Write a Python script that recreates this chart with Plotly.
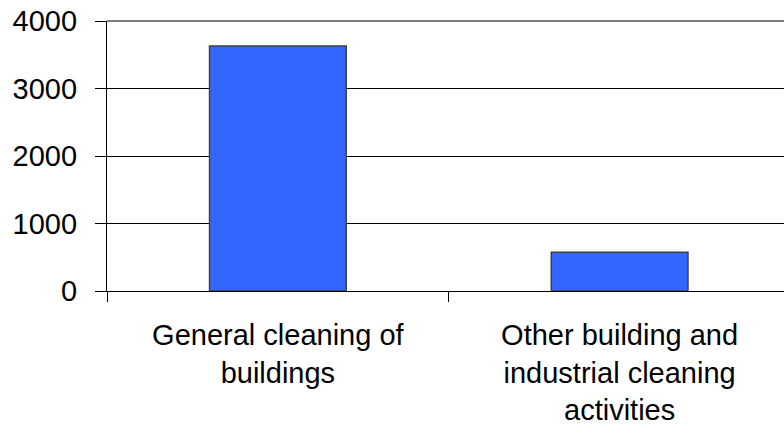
import plotly.graph_objects as go

categories = ["General cleaning of<br>buildings",
              "Other building and<br>industrial cleaning<br>activities"]
values = [3630, 575]
y_ticks = [0, 1000, 2000, 3000, 4000]

fig = go.Figure()
fig.add_trace(go.Bar(x=categories, y=values, width=0.4,
                     marker=dict(color="#3366FF", line=dict(color="#404040", width=1.5))))

fig.update_xaxes(type="category", range=[-0.5, 1.481], showline=True, linecolor="black",
                 linewidth=1.3, ticks="outside", tickson="boundaries", ticklen=10,
                 tickcolor="black", tickwidth=1.3, showgrid=False, ticklabelstandoff=18,
                 automargin=False)
fig.update_yaxes(range=[0, 4000], tickvals=y_ticks, showline=True, linecolor="black",
                 linewidth=1.3, ticks="outside", ticklen=11, tickcolor="black", tickwidth=1.3,
                 showgrid=True, gridcolor="black", gridwidth=1.3, zeroline=False,
                 ticklabelstandoff=12, automargin=False, ticklabeloverflow="allow")

# grey frame line at the top of the plot area
fig.add_shape(type="line", xref="paper", yref="paper", x0=0, x1=1, y0=1, y1=1,
              line=dict(color="#808080", width=2))

fig.update_layout(
    width=784, height=429,
    margin=dict(l=107, r=0, t=21, b=138),
    paper_bgcolor="white", plot_bgcolor="white",
    showlegend=False,
    bargap=0.6,
    font=dict(family="Liberation Sans, Arial, sans-serif", size=29, color="black"),
)

# drop the default 8px body margin so the figure fills the window
fig.write_html("out.html", config={"displayModeBar": False},
               post_script="document.body.style.margin='0';")
